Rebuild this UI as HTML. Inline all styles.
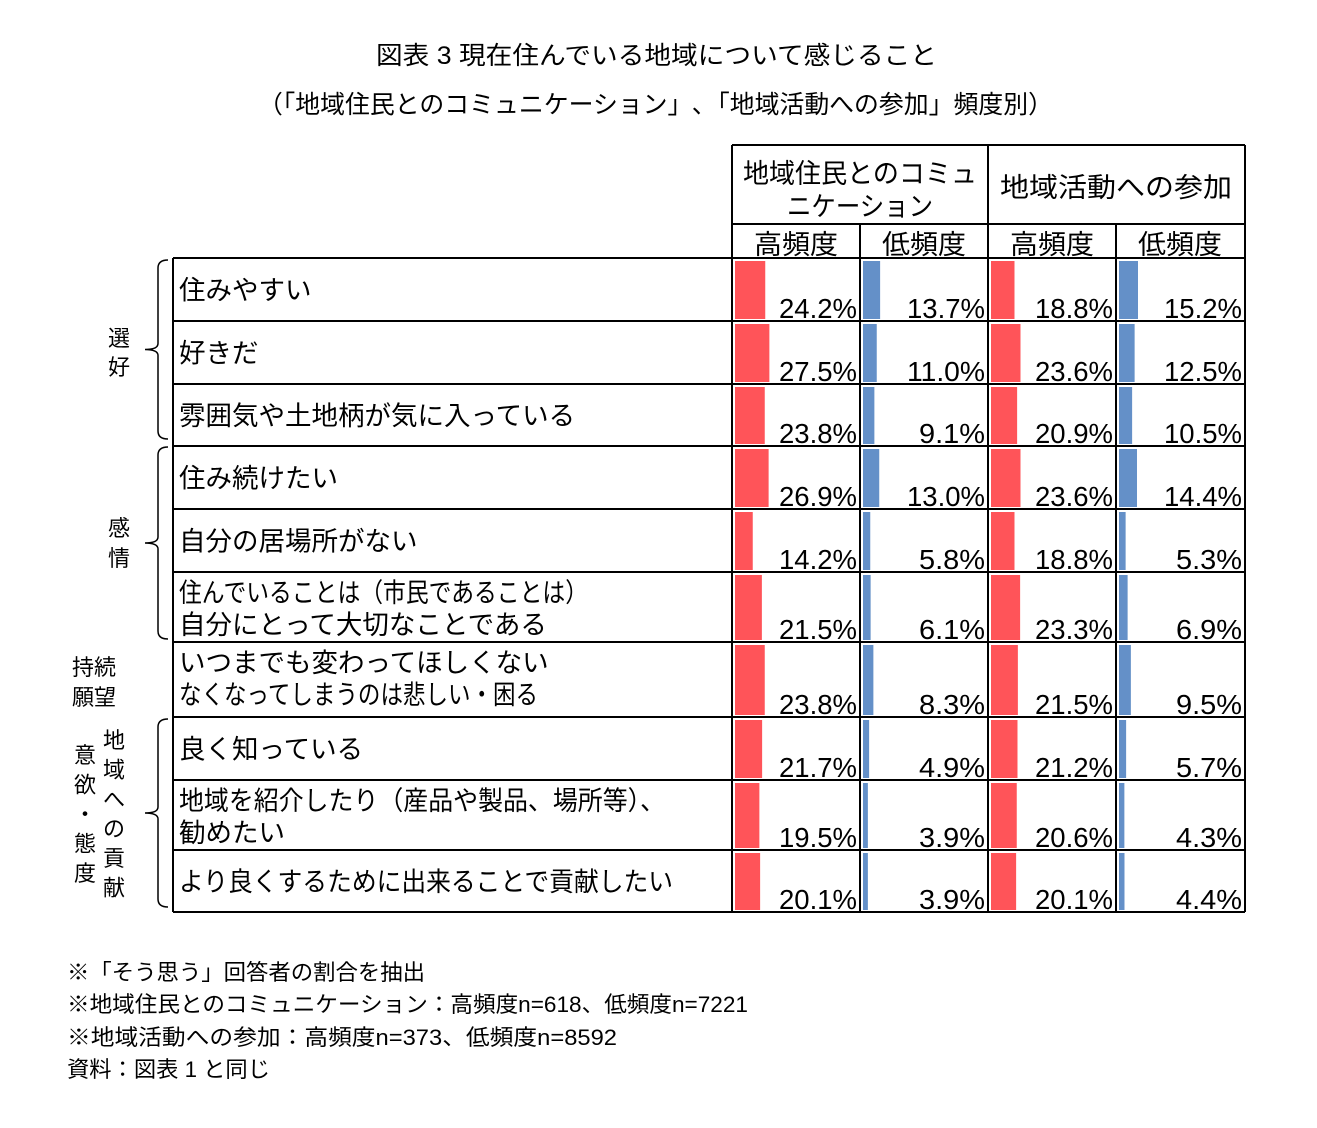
<!DOCTYPE html>
<html><head><meta charset="utf-8">
<style>
html,body{margin:0;padding:0;background:#fff;}
svg{display:block;}
text{font-family:"Liberation Sans","Noto Sans CJK JP",sans-serif;fill:#000;}
</style></head>
<body>
<svg id="chart" width="1317" height="1128" viewBox="0 0 1317 1128" xmlns="http://www.w3.org/2000/svg">
<text x="376" y="64" font-size="25" textLength="561" lengthAdjust="spacingAndGlyphs">図表 3  現在住んでいる地域について感じること</text>
<text x="258" y="113" font-size="25" textLength="795" lengthAdjust="spacingAndGlyphs">（「地域住民とのコミュニケーション」､「地域活動への参加」頻度別）</text>
<g id="table"></g>
<text x="67" y="980" font-size="22" textLength="358" lengthAdjust="spacingAndGlyphs">※「そう思う」回答者の割合を抽出</text>
<text x="67" y="1012" font-size="22" textLength="681" lengthAdjust="spacingAndGlyphs">※地域住民とのコミュニケーション：高頻度n=618、低頻度n=7221</text>
<text x="67" y="1045" font-size="22" textLength="550" lengthAdjust="spacingAndGlyphs">※地域活動への参加：高頻度n=373、低頻度n=8592</text>
<text x="67" y="1077" font-size="22" textLength="203" lengthAdjust="spacingAndGlyphs">資料：図表 1 と同じ</text>
</svg>
<script>
const items = [
  ["住みやすい"],
  ["好きだ"],
  ["雰囲気や土地柄が気に入っている"],
  ["住み続けたい"],
  ["自分の居場所がない"],
  ["住んでいることは（市民であることは）","自分にとって大切なことである"],
  ["いつまでも変わってほしくない","なくなってしまうのは悲しい・困る"],
  ["良く知っている"],
  ["地域を紹介したり（産品や製品、場所等）、","勧めたい"],
  ["より良くするために出来ることで貢献したい"]
];
const commHigh = [24.2,27.5,23.8,26.9,14.2,21.5,23.8,21.7,19.5,20.1];
const commLow  = [13.7,11.0,9.1,13.0,5.8,6.1,8.3,4.9,3.9,3.9];
const actHigh  = [18.8,23.6,20.9,23.6,18.8,23.3,21.5,21.2,20.6,20.1];
const actLow   = [15.2,12.5,10.5,14.4,5.3,6.9,9.5,5.7,4.3,4.4];
const seriesNames = ["comm-high","comm-low","act-high","act-low"];
const fitWidths = {"住んでいることは（市民であることは）":409,"なくなってしまうのは悲しい・困る":359,"地域を紹介したり（産品や製品、場所等）、":486,"より良くするために出来ることで貢献したい":494};

const NS="http://www.w3.org/2000/svg";
const g=document.getElementById('table');
function el(tag,attrs,txt){const e=document.createElementNS(NS,tag);for(const k in attrs)e.setAttribute(k,attrs[k]);if(txt!==undefined)e.textContent=txt;g.appendChild(e);return e;}
const rowB=[258,321,384,446,509,572,642,717,780,850,912];
const colX=[173,732,860,988,1116,1245];
const xScale=v=>v*1.25;
const series=[commHigh,commLow,actHigh,actLow];
const colors=["#ff5459","#6490c8","#ff5459","#6490c8"];
function label(x,y,s){const t=el('text',{x,y,'font-size':26.5},s);if(fitWidths[s]){t.setAttribute('textLength',fitWidths[s]);t.setAttribute('lengthAdjust','spacingAndGlyphs');}return t;}
for(let i=0;i<items.length;i++){
  const top=rowB[i],bot=rowB[i+1];
  for(let s=0;s<4;s++){
    const x0=colX[s+1]+3;
    const r=el('rect',{x:x0,y:top+3,width:xScale(series[s][i]),height:bot-top-5,fill:colors[s]});
    
    
    const str=series[s][i].toFixed(1)+'%';
    const digits=str.length-2;
    const t=el('text',{x:colX[s+2]-3,y:bot-3,'font-size':28,'text-anchor':'end',textLength:12*digits+42,lengthAdjust:'spacingAndGlyphs'},str);
    
    
  }
  const lines=items[i];
  if(lines.length===1){
    const t=label(179,(top+bot)/2+10,lines[0]);
    
    
  } else {
    const t1=label(179,top+30,lines[0]);
    
    
    const t2=label(179,top+62,lines[1]);
    
    
  }
}
const ln=(x1,y1,x2,y2,w)=>el('line',{x1,y1,x2,y2,stroke:'#000','stroke-width':w||2});
ln(732,145,1245,145);ln(732,224,1245,224);
for(const y of rowB) ln(173,y,1245,y);
ln(173,258,173,912);
ln(732,145,732,912);ln(988,145,988,912);ln(1245,145,1245,912);
ln(860,224,860,912);ln(1116,224,1116,912);
function ht(x,y,s,n,len){const t=el('text',{x,y,'font-size':27,'text-anchor':'middle'},s);if(len){t.setAttribute('textLength',len);t.setAttribute('lengthAdjust','spacingAndGlyphs');}}
ht(860,183,'地域住民とのコミュ','header-comm-line1',234);
ht(860,216,'ニケーション','header-comm-line2',146);
ht(1116,197,'地域活動への参加','header-activity',232);
ht(796,254,'高頻度','subheader-comm-high',84);
ht(924,254,'低頻度','subheader-comm-low',84);
ht(1052,254,'高頻度','subheader-act-high',84);
ht(1180,254,'低頻度','subheader-act-low',84);
function brace(y1,y2,name){
  const m=(y1+y2)/2;
  const p=el('path',{d:`M168 ${y1} Q158 ${y1} 158 ${y1+8} L158 ${m-6} Q158 ${m} 145 ${m} Q158 ${m} 158 ${m+6} L158 ${y2-8} Q158 ${y2} 168 ${y2}`,fill:'none',stroke:'#000','stroke-width':1.5});
  
}
brace(260,439,'brace-preference');brace(447,639,'brace-feeling');brace(719,907,'brace-contribution');
function lt(x,y,s,n){const t=el('text',{x,y,'font-size':22,'text-anchor':'middle'},s);}
lt(119,346,'選','group-label-preference-1');lt(119,375,'好','group-label-preference-2');
lt(119,536,'感','group-label-feeling-1');lt(119,566,'情','group-label-feeling-2');
lt(94,675,'持続','group-label-continuity-1');lt(94,705,'願望','group-label-continuity-2');
const c1=['地','域','へ','の','貢','献'];c1.forEach((c,k)=>lt(114,748+k*29.5,c,'group-label-contribution-'+(k+1)));
const c2=['意','欲','・','態','度'];c2.forEach((c,k)=>lt(85,763+k*29.5,c,'group-label-attitude-'+(k+1)));
</script>
</body></html>
